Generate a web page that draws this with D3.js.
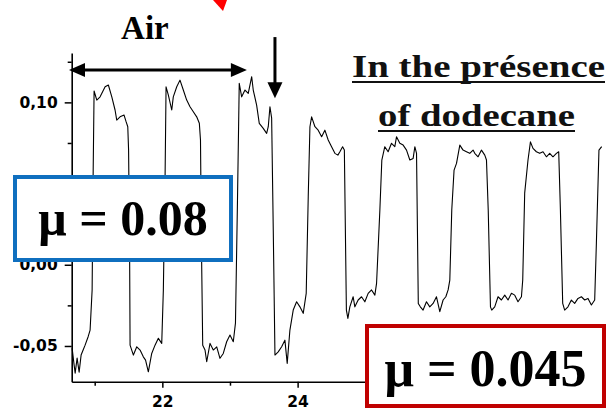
<!DOCTYPE html>
<html>
<head>
<meta charset="utf-8">
<script src="https://cdn.jsdelivr.net/npm/d3@7"></script>
<style>
  body { margin: 0; background: #fff; }
</style>
</head>
<body>
<script>
// friction trace, one point per pair (time, signal)
var time = [
  20.666, 20.696, 20.711, 20.740, 20.770, 20.799, 20.829, 20.858, 20.903, 20.932, 20.962, 20.976, 20.991,
  21.031, 21.080, 21.154, 21.202, 21.253, 21.301, 21.326, 21.375, 21.434, 21.464, 21.489, 21.501, 21.516, 21.523,
  21.572, 21.622, 21.671, 21.719, 21.752, 21.793, 21.843, 21.892, 21.941, 21.991, 22.015, 22.040, 22.055,
  22.089, 22.139, 22.162, 22.213, 22.261, 22.310, 22.360, 22.409, 22.458, 22.508, 22.547, 22.564, 22.579, 22.597,
  22.631, 22.656, 22.705, 22.753, 22.804, 22.852, 22.901, 22.951, 23.000, 23.049, 23.081, 23.111, 23.137,
  23.173, 23.222, 23.270, 23.321, 23.344, 23.394, 23.433, 23.492, 23.542, 23.566, 23.591, 23.616, 23.640, 23.665,
  23.713, 23.764, 23.812, 23.846, 23.886, 23.935, 23.985, 24.034, 24.083, 24.127, 24.157, 24.182, 24.207,
  24.256, 24.304, 24.355, 24.403, 24.452, 24.502, 24.551, 24.595, 24.625, 24.665, 24.691, 24.721, 24.743,
  24.772, 24.821, 24.846, 24.895, 24.945, 24.994, 25.043, 25.093, 25.142, 25.167, 25.216, 25.245, 25.289,
  25.338, 25.388, 25.437, 25.462, 25.511, 25.560, 25.610, 25.659, 25.708, 25.733, 25.758, 25.784, 25.814,
  25.855, 25.905, 25.954, 26.003, 26.053, 26.102, 26.151, 26.191, 26.225, 26.250, 26.279, 26.313, 26.349, 26.398,
  26.446, 26.496, 26.545, 26.594, 26.619, 26.668, 26.718, 26.767, 26.792, 26.818, 26.851,
  26.870, 26.914, 26.963, 27.013, 27.062, 27.111, 27.161, 27.210, 27.258, 27.309, 27.328, 27.357, 27.406, 27.442,
  27.480, 27.530, 27.579, 27.628, 27.678, 27.727, 27.775, 27.826, 27.860, 27.885, 27.919,
  27.948, 27.997, 28.047, 28.096, 28.145, 28.195, 28.244, 28.293, 28.343, 28.392, 28.417, 28.455, 28.495
];
var signal = [
  -0.0513, -0.0618, -0.0667, -0.0575, -0.0661, -0.0556, -0.0525, -0.0495, -0.0443, -0.0402, -0.0155, 0.0522, 0.1070,
  0.1014, 0.1034, 0.1096, 0.1107, 0.1034, 0.0953, 0.0891, 0.0911, 0.0922, 0.0881, 0.0850, 0.0706, 0.0090, -0.0495,
  -0.0556, -0.0505, -0.0525, -0.0567, -0.0587, -0.0659, -0.0546, -0.0495, -0.0453, -0.0484, -0.0155, 0.0522, 0.1096,
  0.1045, 0.0953, 0.1034, 0.1096, 0.1137, 0.1076, 0.1014, 0.0973, 0.0942, 0.0911, 0.0871, 0.0768, 0.0090, -0.0495,
  -0.0525, -0.0597, -0.0484, -0.0525, -0.0505, -0.0576, -0.0546, -0.0474, -0.0433, -0.0474, -0.0359, 0.0398, 0.1117,
  0.1034, 0.1076, 0.1055, 0.1158, 0.1076, 0.0983, 0.0871, 0.0840, 0.0809, 0.0850, 0.0973, 0.0903, 0.0214, -0.0556,
  -0.0536, -0.0505, -0.0464, -0.0607, -0.0402, -0.0279, -0.0228, -0.0259, -0.0299, -0.0176, 0.0419, 0.0850, 0.0911,
  0.0850, 0.0829, 0.0788, 0.0829, 0.0768, 0.0727, 0.0686, 0.0675, 0.0696, 0.0727, 0.0706, -0.0279, -0.0330,
  -0.0259, -0.0197, -0.0259, -0.0217, -0.0197, -0.0228, -0.0176, -0.0155, -0.0187, -0.0115, 0.0337, 0.0645, 0.0727,
  0.0696, 0.0748, 0.0727, 0.0788, 0.0748, 0.0737, 0.0706, 0.0645, 0.0655, 0.0727, 0.0686, -0.0238, -0.0259,
  -0.0279, -0.0228, -0.0259, -0.0238, -0.0197, -0.0289, -0.0217, -0.0197, -0.0155, -0.0094, 0.0337, 0.0583, 0.0624, 0.0737,
  0.0706, 0.0696, 0.0686, 0.0706, 0.0686, 0.0665, 0.0706, 0.0675, 0.0645, 0.0337, -0.0259,
  -0.0279, -0.0259, -0.0197, -0.0217, -0.0187, -0.0217, -0.0176, -0.0187, -0.0228, -0.0197, -0.0094, 0.0441, 0.0645, 0.0757,
  0.0717, 0.0696, 0.0686, 0.0696, 0.0665, 0.0686, 0.0665, 0.0686, 0.0696, 0.0337, -0.0238,
  -0.0279, -0.0259, -0.0217, -0.0238, -0.0207, -0.0197, -0.0217, -0.0207, -0.0248, -0.0217, 0.0134, 0.0706, 0.0727
];

var yMajor = [-0.05, 0, 0.05, 0.10];
var yMajorLabels = ["-0,05", "0,00", "0,05", "0,10"];
var yMinor = [-0.025, 0.025, 0.075, 0.125];
// 26 and 28 sit under the red box in the figure, so only 22 and 24 carry labels
var xMajor = [22, 24, 26, 28];
var xLabelled = [22, 24];
var xMajorLabels = ["22", "24"];
var xMinor = [21, 23, 25, 27];

// annotations, in data units
var airSpan = [20.62, 23.25];
var airArrowLevel = 0.12;
var switchTime = 23.665;
var switchArrow = [0.1402, 0.1026];
var muAir = "\u03bc = 0.08";
var muDodecane = "\u03bc = 0.045";

var w = 607;
var h = 410;
var svg = d3.select("body").append("svg").attr("width", w).attr("height", h);

var xScale = d3.scaleLinear().domain([20.66, 28.5]).range([71.7, 602]);
var yScale = d3.scaleLinear().domain([-0.072, 0.1304]).range([381.7, 53]);

var tickFont = "'DejaVu Sans', Arial, sans-serif";
var serif = "'Liberation Serif', 'Times New Roman', serif";

// minor ticks and unlabelled majors first, then the labelled axes
svg.append("g").attr("transform", "translate(0,381.7)")
  .call(d3.axisBottom(xScale).tickValues(xMinor).tickSize(4).tickFormat(""))
  .call(g => g.select(".domain").remove());
svg.append("g").attr("transform", "translate(0,381.7)")
  .call(d3.axisBottom(xScale).tickValues(xMajor.filter(d => !xLabelled.includes(d))).tickSize(6).tickFormat(""))
  .call(g => g.select(".domain").remove());
svg.append("g").attr("transform", "translate(71.7,0)")
  .call(d3.axisLeft(yScale).tickValues(yMinor).tickSize(4).tickFormat(""))
  .call(g => g.select(".domain").remove());

var xAxis = d3.axisBottom(xScale)
  .tickValues(xLabelled)
  .tickFormat(d => xMajorLabels[xLabelled.indexOf(d)])
  .tickSizeInner(6).tickSizeOuter(0).tickPadding(8);
var yAxis = d3.axisLeft(yScale)
  .tickValues(yMajor)
  .tickFormat(d => yMajorLabels[yMajor.indexOf(d)])
  .tickSizeInner(7).tickSizeOuter(0).tickPadding(7);

svg.append("g").attr("class", "x-axis").attr("transform", "translate(0,381.7)").call(xAxis);
svg.append("g").attr("class", "y-axis").attr("transform", "translate(71.7,0)").call(yAxis);

svg.selectAll(".domain").attr("stroke", "#000").attr("stroke-width", 1.6);
svg.selectAll(".tick line").attr("stroke", "#000").attr("stroke-width", 1.5);
svg.selectAll(".tick text")
  .attr("fill", "#000")
  .attr("font-family", tickFont)
  .attr("font-weight", "bold")
  .attr("font-size", 15.5);

// the trace
var points = time.map((t, i) => [t, signal[i]]);
var line = d3.line()
  .x(d => xScale(d[0]))
  .y(d => yScale(d[1]));
svg.append("path")
  .datum(points)
  .attr("d", line)
  .attr("fill", "none")
  .attr("stroke", "#000")
  .attr("stroke-width", 1.1)
  .attr("stroke-linejoin", "round");

// "Air" double arrow
var ay = yScale(airArrowLevel);
var ax0 = xScale(airSpan[0]);
var ax1 = xScale(airSpan[1]);
svg.append("line")
  .attr("x1", ax0 + 10).attr("x2", ax1 - 10)
  .attr("y1", ay).attr("y2", ay)
  .attr("stroke", "#000").attr("stroke-width", 3);
svg.append("path")
  .attr("d", `M${ax0},${ay} L${ax0 + 16},${ay - 7} L${ax0 + 16},${ay + 7} Z`)
  .attr("fill", "#000");
svg.append("path")
  .attr("d", `M${ax1},${ay} L${ax1 - 16},${ay - 7} L${ax1 - 16},${ay + 7} Z`)
  .attr("fill", "#000");
svg.append("text")
  .attr("x", (ax0 + ax1) / 2 - 13)
  .attr("y", 39)
  .attr("text-anchor", "middle")
  .attr("font-family", serif)
  .attr("font-weight", "bold")
  .attr("font-size", 33)
  .attr("fill", "#000")
  .text("Air");

// down arrow where dodecane is added
var dx = xScale(switchTime);
var dy0 = yScale(switchArrow[0]);
var dy1 = yScale(switchArrow[1]);
svg.append("line")
  .attr("x1", dx).attr("x2", dx)
  .attr("y1", dy0).attr("y2", dy1 - 12)
  .attr("stroke", "#000").attr("stroke-width", 3);
svg.append("path")
  .attr("d", `M${dx},${dy1} L${dx - 7.5},${dy1 - 16} L${dx + 7.5},${dy1 - 16} Z`)
  .attr("fill", "#000");

// red arrow tip peeking in at the top
svg.append("path")
  .attr("d", "M213,0 L227,0 L223,11 Z")
  .attr("fill", "#ff0000");

// "In the présence of dodecane"
var heading = [
  { text: "In the présence", cx: 478.5, y: 77, len: 253 },
  { text: "of  dodecane", cx: 476.5, y: 126, len: 197 }
];
heading.forEach(function (d) {
  svg.append("text")
    .attr("x", d.cx)
    .attr("y", d.y)
    .attr("text-anchor", "middle")
    .attr("font-family", serif)
    .attr("font-weight", "bold")
    .attr("font-size", 31)
    .attr("textLength", d.len)
    .attr("lengthAdjust", "spacingAndGlyphs")
    .attr("fill", "#111")
    .text(d.text);
  svg.append("line")
    .attr("x1", d.cx - d.len / 2).attr("x2", d.cx + d.len / 2)
    .attr("y1", d.y + 5).attr("y2", d.y + 5)
    .attr("stroke", "#111").attr("stroke-width", 2);
});

// friction coefficient boxes
var boxes = [
  { label: muAir, x: 15, y: 177, w: 216, h: 83, color: "#0f6fbf", size: 50, base: 235 },
  { label: muDodecane, x: 367, y: 326, w: 237, h: 80, color: "#c00000", size: 52, base: 386 }
];
boxes.forEach(function (b) {
  svg.append("rect")
    .attr("x", b.x).attr("y", b.y)
    .attr("width", b.w).attr("height", b.h)
    .attr("fill", "#fff")
    .attr("stroke", b.color)
    .attr("stroke-width", 4);
  svg.append("text")
    .attr("x", b.x + b.w / 2)
    .attr("y", b.base)
    .attr("text-anchor", "middle")
    .attr("font-family", serif)
    .attr("font-weight", "bold")
    .attr("font-size", b.size)
    .attr("fill", "#000")
    .text(b.label);
});
</script>
</body>
</html>
